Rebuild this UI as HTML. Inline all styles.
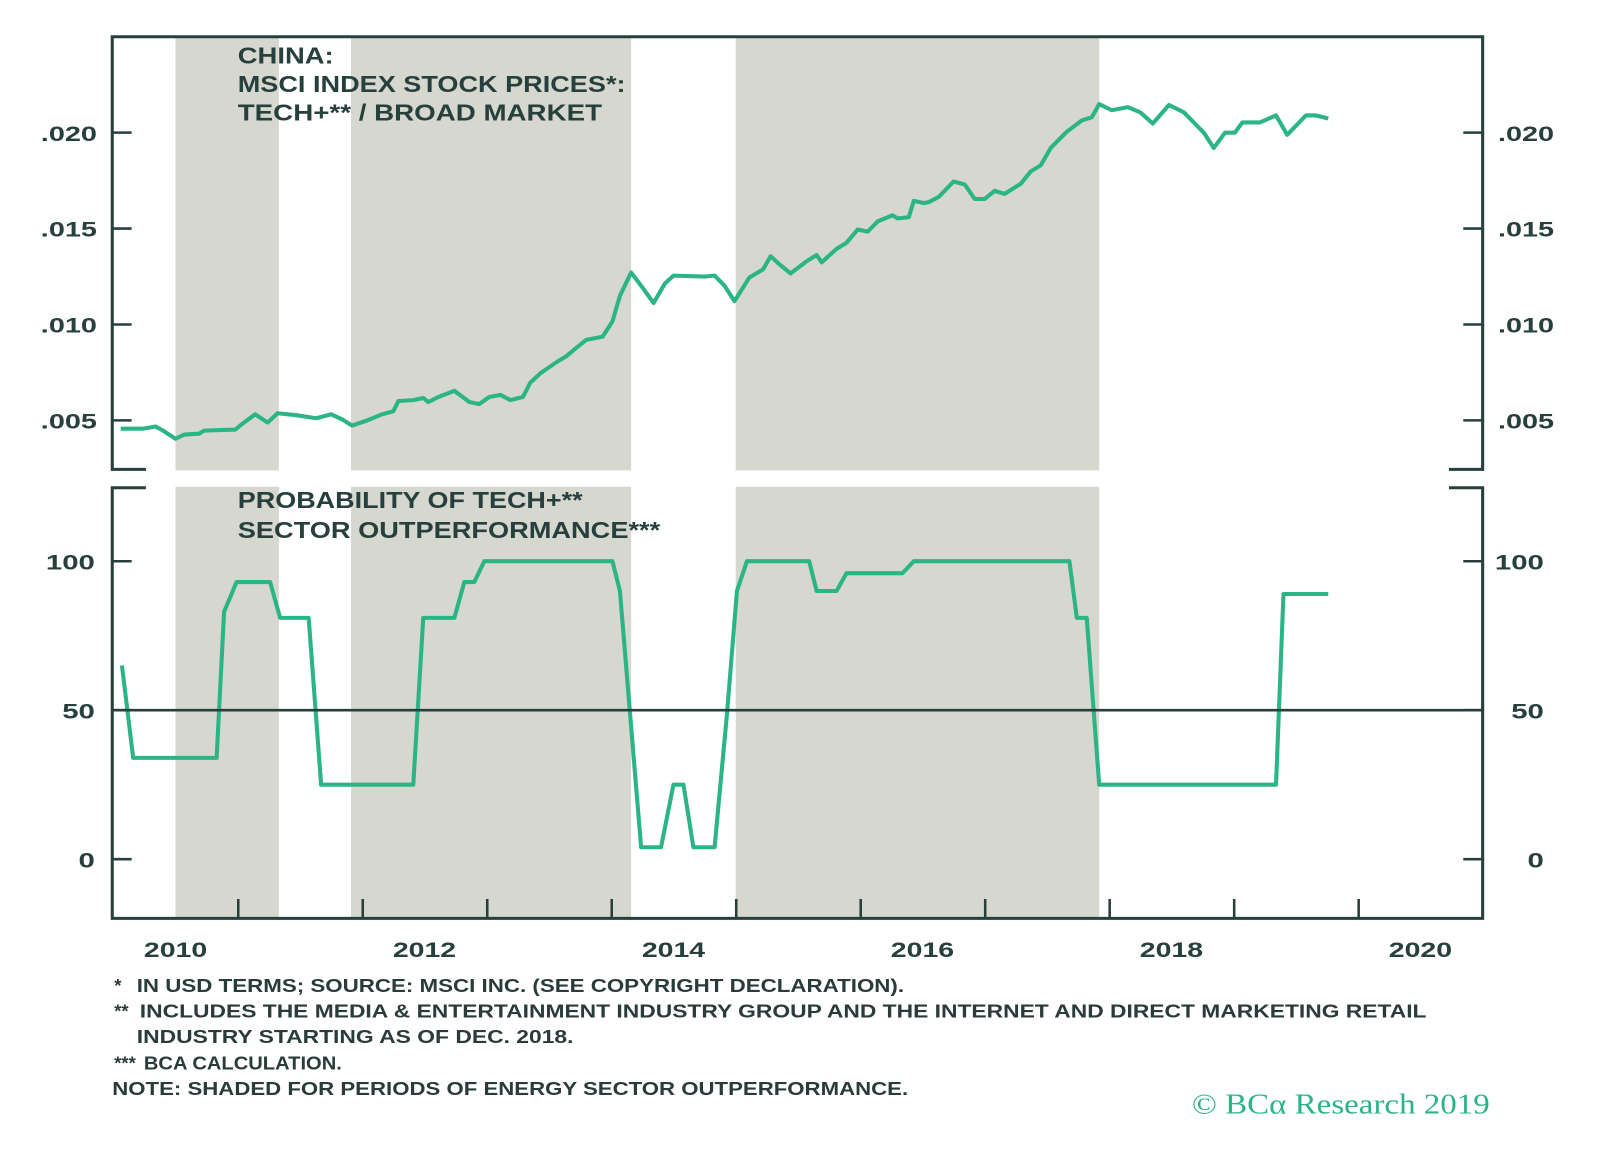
<!DOCTYPE html>
<html><head><meta charset="utf-8"><style>
html,body{margin:0;padding:0;background:#fff;}
svg{display:block;}
text{font-family:"Liberation Sans",sans-serif;}
</style></head><body>
<svg id="chart" width="1600" height="1150" viewBox="0 0 1568 1127" xmlns="http://www.w3.org/2000/svg">
<g id="shading"></g>
<g id="lines"></g>
<g id="axes"></g>
<g fill="#27403d" font-size="23" font-weight="bold">
<text x="233" y="62" textLength="94" lengthAdjust="spacingAndGlyphs">CHINA:</text>
<text x="233" y="90" textLength="380" lengthAdjust="spacingAndGlyphs">MSCI INDEX STOCK PRICES*:</text>
<text x="233" y="118" textLength="357" lengthAdjust="spacingAndGlyphs">TECH+** / BROAD MARKET</text>
</g>
<g fill="#27403d" font-size="23" font-weight="bold">
<text x="233" y="498" textLength="338" lengthAdjust="spacingAndGlyphs">PROBABILITY OF TECH+**</text>
<text x="233" y="527" textLength="414" lengthAdjust="spacingAndGlyphs">SECTOR OUTPERFORMANCE***</text>
</g>
<g fill="#2a3b3a" font-size="18" font-weight="bold">
<text x="112" y="972">*</text>
<text x="134" y="972" textLength="752" lengthAdjust="spacingAndGlyphs">IN USD TERMS; SOURCE: MSCI INC. (SEE COPYRIGHT DECLARATION).</text>
<text x="112" y="997">**</text>
<text x="137" y="997" textLength="1261" lengthAdjust="spacingAndGlyphs">INCLUDES THE MEDIA &amp; ENTERTAINMENT INDUSTRY GROUP AND THE INTERNET AND DIRECT MARKETING RETAIL</text>
<text x="134" y="1022" textLength="428" lengthAdjust="spacingAndGlyphs">INDUSTRY STARTING AS OF DEC. 2018.</text>
<text x="112" y="1048">***</text>
<text x="141" y="1048" textLength="194" lengthAdjust="spacingAndGlyphs">BCA CALCULATION.</text>
<text x="110" y="1073" textLength="780" lengthAdjust="spacingAndGlyphs">NOTE: SHADED FOR PERIODS OF ENERGY SECTOR OUTPERFORMANCE.</text>
</g>
<text x="1168" y="1091" textLength="292" lengthAdjust="spacingAndGlyphs" style="font-family:'Liberation Serif',serif" font-size="28" fill="#2bb585">© BCα Research 2019</text>
</svg>
<script>
const shadeStart = [2010.5, 2011.91, 2015.0];
const shadeEnd = [2011.33, 2014.16, 2017.92];
const priceDates = [2010.06,2010.24,2010.34,2010.40,2010.50,2010.57,2010.69,2010.73,2010.98,2011.04,2011.14,2011.24,2011.32,2011.47,2011.63,2011.75,2011.84,2011.92,2012.04,2012.16,2012.25,2012.29,2012.41,2012.49,2012.53,2012.61,2012.74,2012.86,2012.94,2013.02,2013.11,2013.19,2013.29,2013.35,2013.43,2013.56,2013.64,2013.72,2013.80,2013.93,2014.01,2014.07,2014.16,2014.24,2014.34,2014.43,2014.50,2014.75,2014.83,2014.91,2014.99,2015.11,2015.22,2015.28,2015.36,2015.44,2015.57,2015.65,2015.69,2015.81,2015.89,2015.98,2016.06,2016.14,2016.26,2016.30,2016.39,2016.43,2016.51,2016.55,2016.63,2016.75,2016.84,2016.92,2017.00,2017.08,2017.16,2017.29,2017.37,2017.45,2017.53,2017.66,2017.78,2017.86,2017.92,2018.02,2018.15,2018.25,2018.35,2018.48,2018.60,2018.76,2018.84,2018.93,2019.01,2019.07,2019.21,2019.34,2019.43,2019.58,2019.66,2019.76];
const priceValues = [4.57,4.57,4.68,4.47,4.04,4.26,4.31,4.47,4.52,4.84,5.32,4.89,5.37,5.27,5.11,5.32,5.05,4.73,5.00,5.32,5.48,6.01,6.06,6.17,5.96,6.22,6.54,5.96,5.85,6.22,6.33,6.06,6.22,6.97,7.45,8.03,8.35,8.78,9.20,9.36,10.16,11.49,12.71,12.02,11.12,12.13,12.55,12.50,12.55,12.02,11.22,12.45,12.87,13.56,13.09,12.66,13.30,13.62,13.24,13.94,14.26,14.95,14.84,15.37,15.69,15.53,15.59,16.44,16.33,16.38,16.65,17.45,17.29,16.54,16.54,16.97,16.81,17.34,17.98,18.30,19.20,20.05,20.64,20.80,21.49,21.17,21.33,21.06,20.48,21.44,21.06,20.00,19.20,20.00,20.00,20.53,20.53,20.90,19.89,20.90,20.90,20.74];
const probDates = [2010.07,2010.16,2010.83,2010.89,2010.99,2011.26,2011.34,2011.57,2011.67,2012.41,2012.49,2012.74,2012.82,2012.90,2012.98,2014.01,2014.07,2014.24,2014.40,2014.50,2014.58,2014.66,2014.83,2014.93,2015.01,2015.09,2015.59,2015.65,2015.81,2015.89,2016.34,2016.43,2017.68,2017.74,2017.82,2017.92,2019.34,2019.40,2019.76];
const probValues = [65,34,34,83,93,93,81,81,25,25,81,81,93,93,100,100,90,4,4,25,25,4,4,49,90,100,100,90,90,96,96,100,100,81,81,25,25,89,89];
const topTicks = [20, 15, 10, 5];
const topTickLabels = [".020", ".015", ".010", ".005"];
const botTicks = [100, 50, 0];
const botTickLabels = ["100", "50", "0"];
const yearTicks = [2011,2012,2013,2014,2015,2016,2017,2018,2019,2020];
const yearLabels = [2010, 2012, 2014, 2016, 2018, 2020];

const NS = "http://www.w3.org/2000/svg";
const X0 = 111, YEARW = 122;
function xS(t){ return X0 + (t - 2010) * YEARW; }
function yTop(v){ return 130 + (20 - v) / 5 * 94; }
function yBot(p){ return 842 - p * 2.92; }
function mk(tag, attrs, parent){
  const e = document.createElementNS(NS, tag);
  for (const k in attrs) e.setAttribute(k, attrs[k]);
  parent.appendChild(e);
  return e;
}
const DARK = "#27403d", GREEN = "#2bb585";
const shading = document.getElementById("shading");
const lines = document.getElementById("lines");
const axes = document.getElementById("axes");

shadeStart.forEach((s, i) => {
  const r = mk("rect", {x: xS(s), y: 36, width: xS(shadeEnd[i]) - xS(s), height: 864, fill: "#d6d7cf"}, shading);
  
  
});
const gap = mk("rect", {x: 110, y: 461, width: 1344, height: 16, fill: "#fff"}, shading);



const fifty = mk("line", {x1: 110, x2: 1453, y1: yBot(50), y2: yBot(50), stroke: DARK, "stroke-width": 2.5}, axes);



const pricePath = priceDates.map((d, i) => (i ? "L" : "M") + xS(d).toFixed(1) + "," + yTop(priceValues[i]).toFixed(1)).join("");
const pl = mk("path", {d: pricePath, fill: "none", stroke: GREEN, "stroke-width": 4, "stroke-linejoin": "round"}, lines);


const probPath = probDates.map((d, i) => (i ? "L" : "M") + xS(d).toFixed(1) + "," + yBot(probValues[i]).toFixed(1)).join("");
const bl = mk("path", {d: probPath, fill: "none", stroke: GREEN, "stroke-width": 4, "stroke-linejoin": "round"}, lines);



const frame = mk("path", {d: "M143,460 H110 V36 H1453 V460 H1420 M143,478 H110 V900 H1453 V478 H1420", fill: "none", stroke: DARK, "stroke-width": 3}, axes);



topTicks.forEach((v, i) => {
  const y = yTop(v);
  const t1 = mk("line", {x1: 110, x2: 129, y1: y, y2: y, stroke: DARK, "stroke-width": 2.5}, axes);
  
  
  const t2 = mk("line", {x1: 1434, x2: 1453, y1: y, y2: y, stroke: DARK, "stroke-width": 2.5}, axes);
  
  
  const l1 = mk("text", {x: 40, y: y + 8, textLength: 55, lengthAdjust: "spacingAndGlyphs", "font-size": 21, "font-weight": "bold", fill: DARK}, axes);
  l1.textContent = topTickLabels[i];
  
  
  const l2 = mk("text", {x: 1468, y: y + 8, textLength: 55, lengthAdjust: "spacingAndGlyphs", "font-size": 21, "font-weight": "bold", fill: DARK}, axes);
  l2.textContent = topTickLabels[i];
  
  
});
botTicks.forEach((v, i) => {
  const y = yBot(v);
  const t1 = mk("line", {x1: 110, x2: 129, y1: y, y2: y, stroke: DARK, "stroke-width": 2.5}, axes);
  
  
  const t2 = mk("line", {x1: 1434, x2: 1453, y1: y, y2: y, stroke: DARK, "stroke-width": 2.5}, axes);
  
  
  const w = botTickLabels[i].length * 16;
  const l1 = mk("text", {x: 93 - w, y: y + 8, textLength: w, lengthAdjust: "spacingAndGlyphs", "font-size": 21, "font-weight": "bold", fill: DARK}, axes);
  l1.textContent = botTickLabels[i];
  
  
  const l2 = mk("text", {x: 1513 - w, y: y + 8, textLength: w, lengthAdjust: "spacingAndGlyphs", "font-size": 21, "font-weight": "bold", fill: DARK}, axes);
  l2.textContent = botTickLabels[i];
  
  
});
yearTicks.forEach(t => {
  const x = xS(t) + 0.5;
  if (x > 1450) return;
  const tk = mk("line", {x1: x, x2: x, y1: 900, y2: 881, stroke: DARK, "stroke-width": 2.5}, axes);
  
  
});
yearLabels.forEach(yr => {
  const cx = xS(yr + 0.5);
  const lb = mk("text", {x: cx - 31, y: 938, textLength: 62, lengthAdjust: "spacingAndGlyphs", "font-size": 21, "font-weight": "bold", fill: DARK}, axes);
  lb.textContent = yr;
  
  
});
</script>
</body></html>
